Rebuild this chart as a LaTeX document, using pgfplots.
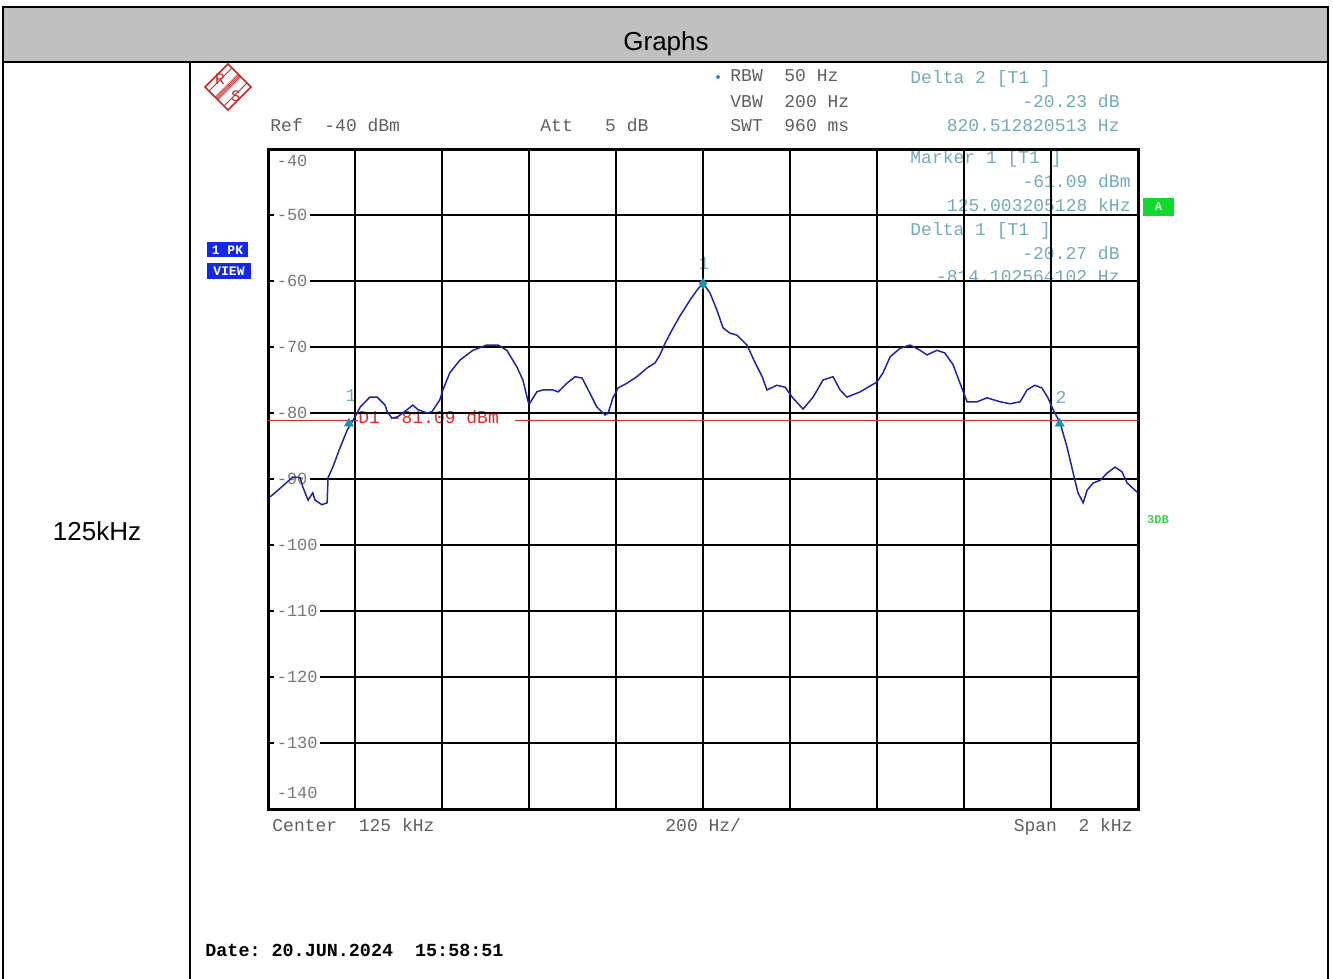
\documentclass[border=0pt]{standalone}
\usepackage{fontspec}
\setmainfont{Liberation Sans}
\newfontfamily\rs{Liberation Mono}
\usepackage{pgfplots}
\pgfplotsset{compat=1.18}
\definecolor{hdr}{RGB}{192,192,192}
\definecolor{trace}{RGB}{35,35,170}
\definecolor{mk}{RGB}{20,150,175}
\definecolor{mtxt}{RGB}{115,170,190}
\definecolor{gtxt}{RGB}{95,95,95}
\definecolor{ltxt}{RGB}{120,120,120}
\definecolor{rsred}{RGB}{200,40,40}
\definecolor{dline}{RGB}{225,40,40}
\definecolor{gbox}{RGB}{20,215,50}
\definecolor{gtext}{RGB}{60,210,80}
\definecolor{bbox}{RGB}{20,40,235}
\begin{document}
\begin{tikzpicture}
\begin{scope}[x=0.5pt,y=-0.5pt]
\path[use as bounding box] (0,0) rectangle (1333,979);
\fill[white] (0,0) rectangle (1333,979);
\fill[hdr] (3,7) rectangle (1328,62);
\draw[line width=0.75pt] (3,979) -- (3,7) -- (1328,7) -- (1328,979);
\draw[line width=1pt] (3,62) -- (1328,62);
\draw[line width=0.75pt] (190,62) -- (190,979);
\node[anchor=base, font=\fontsize{13}{15}\selectfont] at (666,51) {Graphs};
\node[anchor=base, font=\fontsize{13}{15}\selectfont] at (97,540) {125kHz};
% R&S logo
\draw[rsred, line width=0.8pt] (228,64) -- (251,87) -- (228,110) -- (205,87) -- cycle;
\draw[rsred, line width=0.5pt] (209,91) -- (232,68);
\draw[rsred, line width=0.5pt] (224,106) -- (247,83);
\draw[rsred, line width=2.6pt, dash pattern=on 0.35pt off 0.35pt] (216.5,98.5) -- (239.5,75.5);
\node[rsred, font=\rs\fontsize{8}{9}\selectfont] at (220,79) {R};
\node[rsred, font=\rs\fontsize{8}{9}\selectfont] at (236,96) {S};
% header texts
\begin{scope}[every node/.style={font=\rs\fontsize{9}{10}\selectfont, inner sep=0pt}]
\node[anchor=base west, gtxt] at (270,132) {Ref~~-40~dBm};
\node[anchor=base west, gtxt] at (540,132) {Att~~~5~dB};
\node[anchor=base west, gtxt] at (730,82) {RBW~~50~Hz};
\node[anchor=base west, gtxt] at (730,108) {VBW~~200~Hz};
\node[anchor=base west, gtxt] at (730,132) {SWT~~960~ms};
\node[anchor=base west, mtxt] at (910,84) {Delta~2~[T1~]};
\node[anchor=base east, mtxt] at (1120,108) {-20.23~dB};
\node[anchor=base east, mtxt] at (1120,132) {820.512820513~Hz};
\node[anchor=base west, mtxt] at (910,163) {Marker~1~[T1~]};
\node[anchor=base east, mtxt] at (1131,187) {-61.09~dBm};
\node[anchor=base east, mtxt] at (1131,211) {125.003205128~kHz};
\node[anchor=base west, mtxt] at (910,235) {Delta~1~[T1~]};
\node[anchor=base east, mtxt] at (1120,259) {-20.27~dB};
\node[anchor=base east, mtxt] at (1120,282) {-814.102564102~Hz};
\node[anchor=base west, dline] at (358,423) {D1~-81.09~dBm};
\node[anchor=base west, gtxt] at (272,831) {Center~~125~kHz};
\node[anchor=base west, gtxt] at (665,831) {200~Hz/};
\node[anchor=base east, gtxt] at (1133,831) {Span~~2~kHz};
\node[anchor=base west, black, font=\rs\fontsize{9.2}{10}\selectfont\bfseries] at (205,956) {Date:~20.JUN.2024~~15:58:51};
\node[mtxt] at (704,264) {1};
\node[mtxt] at (351,396) {1};
\node[mtxt] at (1061,397) {2};
\end{scope}
\fill[mk] (718,77) circle (2);
% side boxes
\fill[bbox] (207,242) rectangle (248,257);
\node[white, font=\rs\fontsize{6.5}{7}\selectfont\bfseries] at (227.5,250) {1~PK};
\fill[bbox] (207,263) rectangle (251,279);
\node[white, font=\rs\fontsize{6.5}{7}\selectfont\bfseries] at (229,271) {VIEW};
\fill[gbox] (1143,198) rectangle (1174,216);
\node[white!85!green, font=\rs\fontsize{6}{7}\selectfont\bfseries] at (1158.5,207) {A};
\node[gtext, font=\rs\fontsize{6}{7}\selectfont\bfseries] at (1158,520) {3DB};
\end{scope}
\begin{axis}[
 at={(134pt,-404.5pt)}, anchor=south west,
 scale only axis, width=435pt, height=330pt,
 xmin=-1000, xmax=1000, ymin=-140, ymax=-40,
 xtick={-800,-600,...,800}, ytick={-130,-120,...,-50},
 xticklabels={}, yticklabels={},
 major tick length=0pt,
 grid=major, grid style={black, line width=0.75pt},
 axis line style={line width=1.5pt},
 clip=false,
]
% y labels
\foreach \v/\yy in {-40/-41.8,-50/-50,-60/-60,-70/-70,-80/-80,-90/-90,-100/-100,-110/-110,-120/-120,-130/-130,-140/-137.6}{
 \edef\tmp{\noexpand\node[anchor=west, fill=white, inner xsep=1.2pt, inner ysep=1pt, text=ltxt, font=\noexpand\rs\noexpand\fontsize{8.5}{9}\noexpand\selectfont, xshift=3pt] at (axis cs:-1000,\yy) {\v};}
 \tmp
}
% display line D1
\addplot[dline, line width=0.6pt] coordinates {(-1000,-81.09) (-793,-81.09)};
\addplot[dline, line width=0.6pt] coordinates {(-432,-81.09) (1000,-81.09)};
% trace
\addplot[trace, line width=0.75pt] coordinates {
(-995,-92.7) (-972,-91.4) (-943,-89.7) (-926,-89.8) (-920,-91.2) (-908,-93.2) (-897,-92.1) (-892,-93.2)
(-876,-93.9) (-864,-93.6) (-862,-89.8) (-851,-88.2) (-834,-85.2) (-818,-82.6) (-800,-80.6) (-788,-79.1)
(-766,-77.6) (-749,-77.6) (-731,-78.8) (-726,-79.8) (-715,-80.8) (-703,-80.6) (-690,-80.0) (-667,-78.8)
(-655,-79.5) (-634,-80.0) (-623,-79.8) (-605,-78.0) (-598,-76.5) (-582,-73.9) (-559,-72.0) (-529,-70.5)
(-497,-69.7) (-471,-69.7) (-451,-70.5) (-428,-73.0) (-414,-75.0) (-402,-78.3) (-398,-78.5) (-382,-76.8)
(-368,-76.5) (-345,-76.5) (-333,-76.8) (-313,-75.5) (-294,-74.5) (-278,-74.7) (-260,-77.0) (-244,-79.1)
(-225,-80.3) (-218,-80.0) (-207,-77.7) (-195,-76.2) (-175,-75.5) (-152,-74.5) (-129,-73.2) (-110,-72.4)
(-99,-71.2) (-87,-69.4) (-71,-67.4) (-53,-65.3) (-30,-62.9) (-14,-61.4) (0,-60.3) (16,-61.8)
(32,-64.4) (46,-67.1) (62,-67.9) (78,-68.2) (101,-69.7) (120,-72.4) (136,-74.5) (147,-76.5)
(170,-75.8) (189,-76.1) (205,-77.6) (230,-79.4) (253,-77.6) (276,-75.0) (299,-74.5) (315,-76.5)
(331,-77.6) (361,-76.8) (400,-75.3) (414,-73.9) (430,-71.5) (453,-70.2) (476,-69.7) (499,-70.5)
(515,-71.2) (538,-70.5) (556,-70.9) (575,-72.7) (591,-75.5) (607,-78.3) (630,-78.3) (653,-77.7)
(683,-78.3) (706,-78.6) (729,-78.3) (745,-76.5) (763,-75.8) (779,-76.2) (793,-77.7) (805,-79.5)
(821,-81.5) (837,-85.2) (851,-89.1) (862,-92.1) (874,-93.6) (883,-91.7) (897,-90.6) (913,-90.2)
(929,-89.1) (947,-88.2) (963,-88.9) (975,-90.6) (998,-92.0)
};
% markers
\addplot[only marks, mark=diamond*, mark size=2.5pt, mk] coordinates {(0,-60.4)};
\addplot[only marks, mark=triangle*, mark size=2.5pt, mk] coordinates {(-814,-81.6) (820,-81.6)};
\end{axis}
\end{tikzpicture}
\end{document}
